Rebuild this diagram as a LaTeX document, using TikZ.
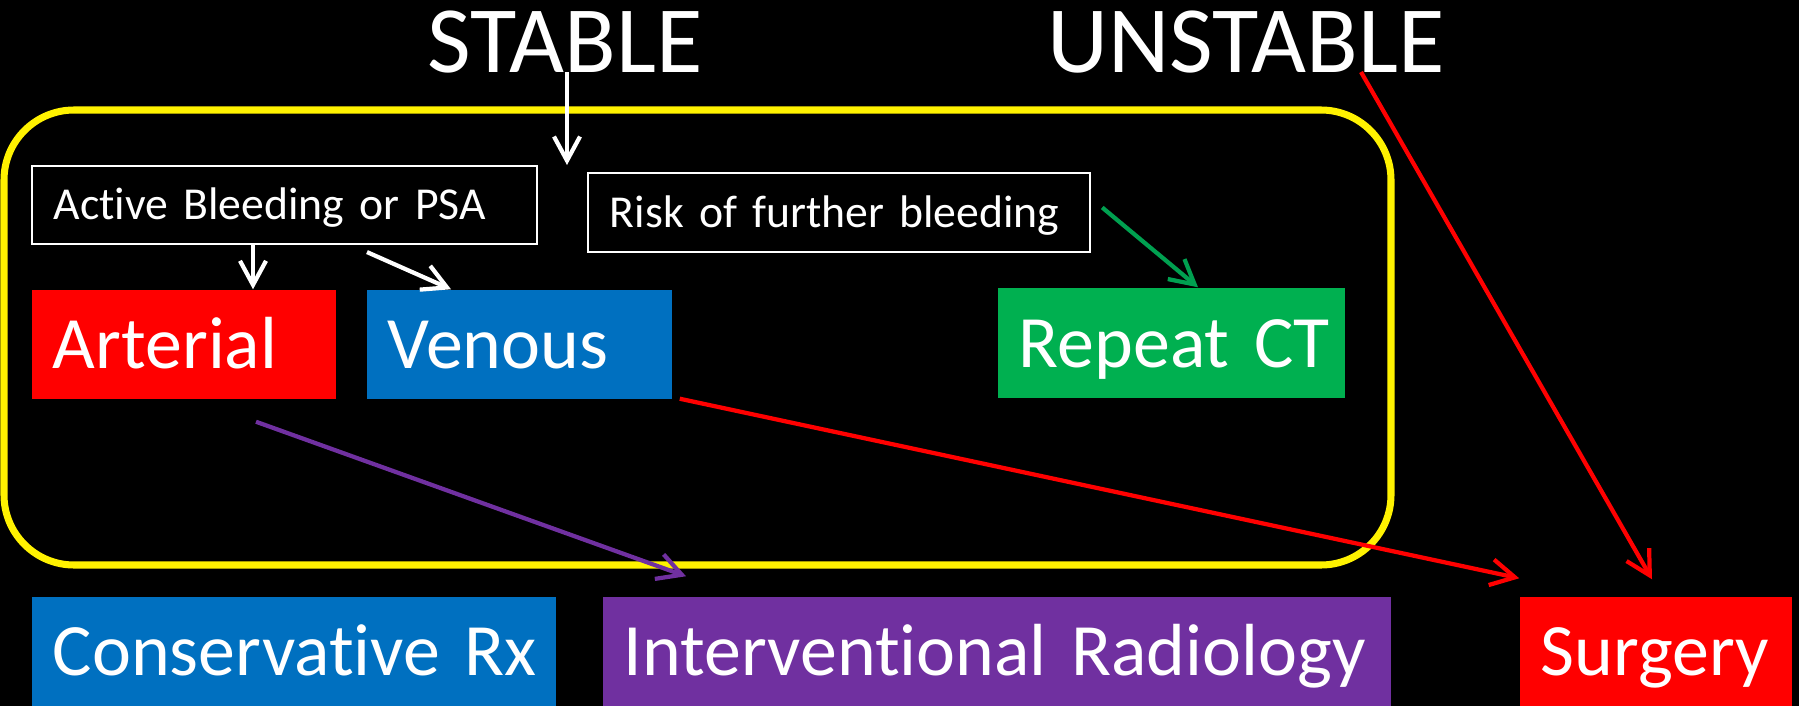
\documentclass[tikz,border=0pt]{standalone}
\usepackage{fontspec}
\setmainfont{Carlito}[Ligatures=NoCommon]
\usetikzlibrary{arrows.meta,calc}
\hyphenpenalty=10000

\definecolor{fillred}{HTML}{FF0000}
\definecolor{fillblue}{HTML}{0070C0}
\definecolor{fillgreen}{HTML}{00B050}
\definecolor{fillpurple}{HTML}{7030A0}
\definecolor{arrowgreen}{HTML}{00A050}

\begin{document}
\begin{tikzpicture}[x=0.01cm, y=-0.01cm, >={Straight Barb[length=2.4mm,width=2.6mm]},
    bigbox/.style={rectangle, inner xsep=2.1mm, inner ysep=0pt, align=left, text=white,
        font=\fontsize{21}{25}\selectfont, text height=4.8mm, text depth=0pt, minimum height=10.9mm},
    smallbox/.style={rectangle, draw=white, line width=0.6pt, inner xsep=2.2mm, inner ysep=0pt, align=left, text=white,
        font=\fontsize{13}{16}\selectfont, text height=2.9mm, text depth=0pt, minimum height=7.8mm},
    heading/.style={text=white, inner sep=0pt, anchor=base, font=\fontsize{27}{32}\selectfont},
    link/.style={->, line width=1.2pt}]
    \fill[black] (0,0) rectangle (1799,706);
    \useasboundingbox (0,0) rectangle (1799,706);

    \draw[yellow, line width=2pt, rounded corners=7mm] (4,110) rectangle (1391,565);

    \node[heading] (stable) at (565,72) {STABLE};
    \node[heading] (unstable) at (1246,72) {UNSTABLE};
    \coordinate (stableend) at (567,165);

    \node[smallbox, text width=46.1mm] (active) at (284.5,205) {Active Bleeding or~PSA};
    \node[smallbox, text width=45.8mm, minimum height=7.9mm] (risk) at (839,212.5) {Risk of further~bleeding};

    \node[bigbox, fill=fillred, text width=26.2mm] (arterial) at (184,344.5) {Arterial};
    \node[bigbox, fill=fillblue, text width=26.3mm] (venous) at (519.5,344.5) {Venous};
    \node[bigbox, fill=fillgreen, text width=30.5mm, minimum height=11mm] (repeatct) at (1171.5,343) {Repeat~CT};

    \node[bigbox, fill=fillblue, text width=48.2mm] (conserv) at (294,651.5) {Conservative~Rx};
    \node[bigbox, fill=fillpurple, text width=74.6mm] (interv) at (997,651.5) {Interventional~Radiology};
    \node[bigbox, fill=fillred, text width=23.0mm] (surgery) at (1656,651.5) {Surgery};

    \draw[link, white] (stable.base -| 567,0) -- (stableend);
    \draw[link, white] (active.south -| 253,0) -- (arterial.north -| 253,0);
    \draw[link, white] ($(active.south -| 367,0)+(0,7)$) -- (venous.north -| 451,0);
    \draw[link, arrowgreen] ($(risk.east)+(11,-5)$) -- (repeatct.north -| 1198,0);
    \draw[link, fillpurple] ($(arterial.south -| 256,0)+(0,22)$) -- ($(interv.north -| 686,0)+(0,-20)$);
    \draw[link, fillred] ($(venous.south east)+(7,-1)$) -- ($(surgery.north west)+(0,-18)$);
    \draw[link, fillred] (unstable.base -| 1361,0) -- ($(surgery.north -| 1652,0)+(0,-17)$);
\end{tikzpicture}
\end{document}
